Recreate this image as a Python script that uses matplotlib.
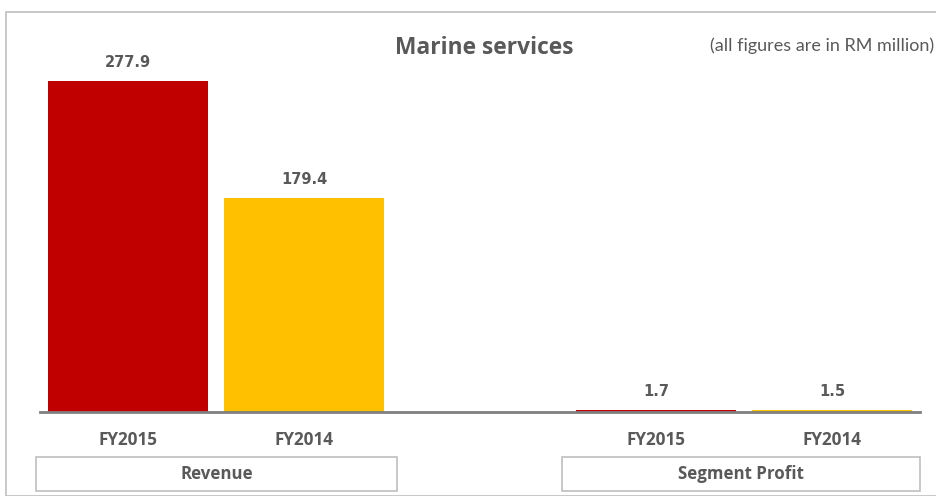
import matplotlib.pyplot as plt
from matplotlib.patches import Rectangle

# Data
periods = ['FY2015', 'FY2014', 'FY2015', 'FY2014']
values = [277.9, 179.4, 1.7, 1.5]
positions = [0, 1, 3, 4]
colors = ['#C00000', '#FFC000', '#C00000', '#FFC000']
groups = ['Revenue', 'Segment Profit']

TEXT = '#595959'
W, H = 937, 496

fig = plt.figure(figsize=(W / 100, H / 100), dpi=100)

# outer frame
fig.patches.append(Rectangle((6 / W, 0), 1, (H - 12) / H, transform=fig.transFigure,
                             fill=False, edgecolor='#BFBFBF', linewidth=1.2))

ax = fig.add_axes([40 / W, (H - 412) / H, 880 / W, 372 / H])
ax.bar(positions, values, width=160 / 176, color=colors)
ax.set_xlim(-0.5, 4.5)
ax.set_ylim(0, 312)
for s in ['top', 'right', 'left']:
    ax.spines[s].set_visible(False)
ax.spines['bottom'].set_color('#808080')
ax.spines['bottom'].set_linewidth(2)
ax.set_yticks([])
ax.set_xticks(positions)
ax.set_xticklabels(periods, fontsize=12.3, fontweight='bold', color=TEXT, family='Open Sans')
ax.tick_params(axis='x', length=0, pad=14)

for x, v in zip(positions, values):
    ax.annotate(f'{v:.1f}', (x, v), xytext=(0, 8), textcoords='offset points',
                ha='center', va='bottom', fontsize=10.5, fontweight='bold',
                color=TEXT, family='DejaVu Sans')

fig.text(484 / W, 1 - 48 / H, 'Marine services', ha='center', va='center',
         fontsize=16.4, fontweight='bold', color=TEXT, family='Open Sans')
fig.text(934 / W, 1 - 46 / H, '(all figures are in RM million)', ha='right', va='center',
         fontsize=13, color=TEXT, family='Lato')

# group boxes
for (x0, x1), name in zip([(36, 397), (562, 920)], groups):
    fig.patches.append(Rectangle((x0 / W, (H - 491) / H), (x1 - x0) / W, 34 / H,
                                 transform=fig.transFigure, fill=False,
                                 edgecolor='#BFBFBF', linewidth=1.2))
    fig.text((x0 + x1) / 2 / W, (H - 474) / H, name, ha='center', va='center',
             fontsize=12.2, fontweight='bold', color=TEXT, family='Open Sans')

fig.savefig('out.png', dpi=100)
